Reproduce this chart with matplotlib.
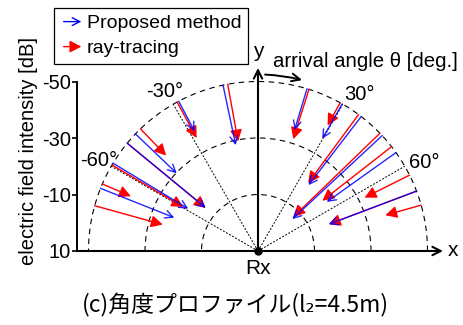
import numpy as np
import matplotlib
matplotlib.use("Agg")
import matplotlib.pyplot as plt
from matplotlib.patches import Arc, FancyArrowPatch
from matplotlib.legend_handler import HandlerPatch

plt.rcParams['font.family'] = ['Liberation Sans', 'DejaVu Sans']

# arrival angle (deg, clockwise from y) and received level (dB) of each path
prop_theta = [-68.3, -58.8, -50.5, -46.3, -27.9, -11.9, 16.8, 29.8, 37.5, 47.1, 54.5, 69.3]
prop_db = [-21.9, -18.9, -14.0, -29.8, -38.0, -28.3, -34.8, -35.8, -19.4, -6.6, -19.9, -16.8]
ray_theta = [-74.5, -66.7, -59.5, -50.5, -43.9, -28.5, -10.3, 17.5, 29.0, 36.4, 46.0, 52.0, 63.4, 69.3, 74.3]
ray_db = [-25.0, -39.0, -20.7, -14.0, -36.9, -35.5, -29.4, -31.5, -40.8, -19.9, -7.4, -18.9, -32.2, -16.8, -36.8]

db_ticks = [10, -10, -30, -50]
ref_angles = [-60, -30, 30, 60]
DB0 = 10          # level at the origin
R_OUT = 60        # radius of the -50 dB circle


def rad(db):
    return DB0 - np.asarray(db, dtype=float)


def polar(r, th):
    t = np.deg2rad(th)
    return r * np.sin(t), r * np.cos(t)


S = 2.825  # px per radius unit
fig = plt.figure(figsize=(4.64, 3.25), dpi=100)
ax = fig.add_axes([0, 0, 1, 1])
ax.set_xlim(-258 / S, (464 - 258) / S)
ax.set_ylim(-(325 - 251) / S, 251 / S)

# level axis on the left
for side in ("top", "right", "bottom"):
    ax.spines[side].set_visible(False)
ax.spines["left"].set_position(("data", -64))
ax.spines["left"].set_bounds(0, R_OUT)
ax.spines["left"].set_linewidth(1.4)
ax.set_yticks(rad(db_ticks))
ax.set_yticklabels([str(v) for v in db_ticks])
ax.tick_params(axis="y", direction="out", length=3.5, width=1.2, labelsize=14.5, pad=1)
ax.set_xticks([])
fig.text(29 / 464, 1 - 151 / 325, "electric field intensity [dB]", rotation=90,
         ha="center", va="center", fontsize=14.5)

# grid circles and reference directions
for r in (20, 40, 60):
    ax.add_patch(Arc((0, 0), 2 * r, 2 * r, theta1=0, theta2=180, color="k",
                     lw=0.8, ls=(0, (5, 4))))
for a in ref_angles:
    x, y = polar(R_OUT, a)
    ax.plot([0, x], [0, y], color="k", lw=0.7, ls=(0, (2, 1.6)))

lbl_pos = {-60: (-56.5, 32.2), -30: (-32.9, 56.3), 30: (35.9, 55.4), 60: (58.9, 31.3)}
for a in ref_angles:
    ax.text(*lbl_pos[a], f"{a}°", ha="center", va="center", fontsize=14.5)

# x / y axes
ax.annotate("", xy=(65.5, 0), xytext=(-64, 0),
            arrowprops=dict(arrowstyle="->,head_length=6,head_width=3", mutation_scale=1,
                            lw=1.5, color="k", shrinkA=0, shrinkB=0))
ax.annotate("", xy=(0, 64.8), xytext=(0, 0),
            arrowprops=dict(arrowstyle="->,head_length=6,head_width=3", mutation_scale=1,
                            lw=1.5, color="k", shrinkA=0, shrinkB=0))
ax.plot(0, 0, "o", color="k", ms=5)
ax.text(69, 0, "x", ha="center", va="center", fontsize=15)
ax.text(0, 70.6, "y", ha="center", va="center", fontsize=15)
ax.text(0, -6.2, "Rx", ha="center", va="center", fontsize=15)
ax.text(5.3, 67.0, "arrival angle θ [deg.]", ha="left", va="center", fontsize=14.7)
ax.annotate("", xy=polar(62.5, 14.5), xytext=polar(62.5, 2.3),
            arrowprops=dict(arrowstyle="->,head_length=6,head_width=2.8", mutation_scale=1,
                            lw=1.4, color="k", shrinkA=0, shrinkB=0,
                            connectionstyle="arc3,rad=-0.05"))

RED_STYLE = "-|>,head_length=7,head_width=3.6"
BLUE_STYLE = "->,head_length=5.5,head_width=2.8"

for th, db in zip(ray_theta, ray_db):
    ax.annotate("", xy=polar(rad(db), th), xytext=polar(R_OUT, th),
                arrowprops=dict(arrowstyle=RED_STYLE, mutation_scale=1, color="#ff0000",
                                lw=1.0, shrinkA=0, shrinkB=0), zorder=3)
for th, db in zip(prop_theta, prop_db):
    ax.annotate("", xy=polar(rad(db), th), xytext=polar(R_OUT, th),
                arrowprops=dict(arrowstyle=BLUE_STYLE, mutation_scale=1, color="#0000ff",
                                lw=1.0, shrinkA=0, shrinkB=0, alpha=0.85), zorder=4)

# legend with arrow keys
h_blue = FancyArrowPatch((0, 0), (1, 1), arrowstyle=BLUE_STYLE, mutation_scale=1,
                         color="#0000ff", lw=1.0)
h_red = FancyArrowPatch((0, 0), (1, 1), arrowstyle=RED_STYLE, mutation_scale=1,
                        color="#ff0000", lw=1.0)


def arrow_key(legend, orig_handle, xdescent, ydescent, width, height, fontsize):
    return FancyArrowPatch((-xdescent, height / 2 - ydescent),
                           (width - xdescent, height / 2 - ydescent),
                           arrowstyle=orig_handle.get_arrowstyle(), mutation_scale=1)


leg = ax.legend([h_blue, h_red], ["Proposed method", "ray-tracing"],
                handler_map={FancyArrowPatch: HandlerPatch(patch_func=arrow_key)},
                loc="upper left", bbox_to_anchor=(54 / 464, 1 - 8 / 325),
                bbox_transform=fig.transFigure, borderaxespad=0, fontsize=14,
                handlelength=1.2, handletextpad=0.15, borderpad=0.35, labelspacing=0.38,
                fancybox=False, framealpha=1, edgecolor="k")
leg.get_frame().set_linewidth(0.9)

fig.text(235 / 464, 1 - 305 / 325, "(c)角度プロファイル(l₂=4.5m)", ha="center", va="center",
         fontsize=16.5, family=["Noto Sans CJK JP", "DejaVu Sans"])

fig.savefig("out.png", dpi=100)
